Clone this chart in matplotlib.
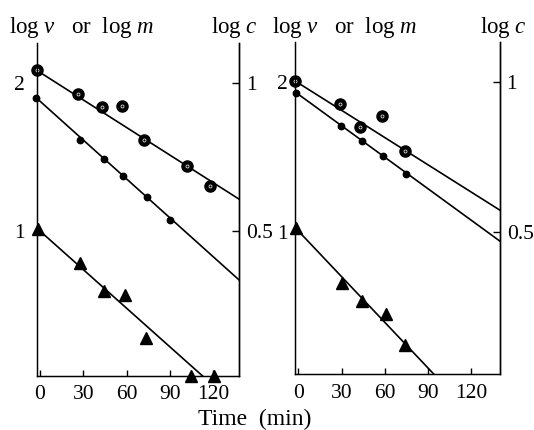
import numpy as np
import matplotlib
matplotlib.use("Agg")
import matplotlib.pyplot as plt

plt.rcParams['font.family'] = ['Liberation Serif', 'DejaVu Serif']
plt.rcParams['mathtext.fontset'] = 'custom'
plt.rcParams['mathtext.rm'] = 'Liberation Serif'
plt.rcParams['mathtext.it'] = 'Liberation Serif:italic'

# ---------------- data ----------------
# Left panel
L_big_t = [-2, 26, 43, 57, 72, 102, 118]
L_big_v = [2.084, 1.921, 1.833, 1.842, 1.613, 1.440, 1.305]
L_dot_t = [-2.5, 28, 44, 57.5, 74, 90]
L_dot_v = [1.898, 1.613, 1.485, 1.372, 1.227, 1.074]
L_tri_t = [-1.2, 27.7, 44.5, 58.9, 73.2, 104.6, 120.5]
L_tri_v = [1.011, 0.782, 0.598, 0.569, 0.277, 0.026, 0.026]
# fitted lines: (intercept at t=0, slope per min)
L_big_fit = (2.068, -0.00619)
L_dot_fit = (1.874, -0.00873)
L_tri_fit = (1.000, -0.00867)

# Right panel
R_big_t = [-2.4, 29, 43, 58, 74]
R_big_v = [2.009, 1.853, 1.704, 1.777, 1.542]
R_dot_t = [-1.5, 29.3, 43.9, 58.9, 74.4]
R_dot_v = [1.931, 1.711, 1.609, 1.509, 1.389]
R_tri_t = [-1.9, 30.4, 44.3, 60.6, 74]
R_tri_v = [1.027, 0.664, 0.544, 0.455, 0.249]
R_big_fit = (1.995, -0.00606)
R_dot_fit = (1.920, -0.00700)
R_tri_fit = (1.008, -0.01015)

x_ticks = [0, 30, 60, 90, 120]
left_ticks = [1, 2]
right_ticks = [0.5, 1]
right_ticklabels = ['0.5', '1']

W, H = 534, 430
fig = plt.figure(figsize=(W / 100, H / 100), dpi=100)

FS = 15.5
TFS = 16.5


def px_axes(x0, y0, x1, y1):
    return fig.add_axes([x0 / W, 1 - y1 / H, (x1 - x0) / W, (y1 - y0) / H])


def draw_panel(ax, xlim, ylim, big, dot, tri, fits, lpad):
    ax.set_xlim(*xlim)
    ax.set_ylim(*ylim)
    for (t, v), (b, s) in zip([big, dot, tri], fits):
        tl = np.array([t[0], xlim[1] + 5])
        ax.plot(tl, b + s * tl, color='black', lw=1.2, zorder=2)
    # big circles with a small white centre
    ax.plot(big[0], big[1], 'o', ms=8, mfc='black', mec='black',
            clip_on=False, zorder=3)
    ax.plot(big[0], big[1], 'o', ms=2.2, mfc='none', mec='white', mew=0.5,
            clip_on=False, zorder=4)
    # small dots
    ax.plot(dot[0], dot[1], 'o', ms=4.6, mfc='black', mec='black',
            clip_on=False, zorder=3)
    # triangles
    ax.plot(tri[0], tri[1], '^', ms=8, mfc='black', mec='black',
            clip_on=False, zorder=3)

    ax.spines['top'].set_visible(False)
    for s in ['left', 'right', 'bottom']:
        ax.spines[s].set_linewidth(1.0)
    ax.set_xticks(x_ticks)
    ax.set_xticklabels([str(v) for v in x_ticks])
    ax.tick_params(axis='x', direction='in', length=4, width=1.0,
                   labelsize=FS, pad=7)
    ax.set_yticks(left_ticks)
    ax.set_yticklabels([str(v) for v in left_ticks])
    ax.tick_params(axis='y', direction='in', length=0, labelsize=FS,
                   pad=lpad)

    ax2 = ax.twinx()
    ax2.set_ylim(ylim[0] / 2, ylim[1] / 2)
    ax2.set_yticks(right_ticks)
    ax2.set_yticklabels(right_ticklabels)
    ax2.tick_params(axis='y', direction='in', length=5, width=1.0,
                    labelsize=FS, pad=5)
    ax2.spines['top'].set_visible(False)
    ax2.spines['right'].set_linewidth(1.0)
    return ax2


axL = px_axes(37, 43, 239.3, 375.7)
draw_panel(axL, (-2.1, 138.0), (0.026, 2.266),
           (L_big_t, L_big_v), (L_dot_t, L_dot_v), (L_tri_t, L_tri_v),
           [L_big_fit, L_dot_fit, L_tri_fit], 9)

axR = px_axes(294.7, 41.7, 499.7, 374.3)
draw_panel(axR, (-2.6, 139.7), (0.053, 2.271),
           (R_big_t, R_big_v), (R_dot_t, R_dot_v), (R_tri_t, R_tri_v),
           [R_big_fit, R_dot_fit, R_tri_fit], 5)

# axis titles
fig.text(9 / W, 1 - 33 / H, r'log $v$   or  log $m$', fontsize=TFS,
         ha='left', va='baseline')
fig.text(211 / W, 1 - 33 / H, r'log $c$', fontsize=TFS, ha='left',
         va='baseline')
fig.text(272 / W, 1 - 33 / H, r'log $v$   or  log $m$', fontsize=TFS,
         ha='left', va='baseline')
fig.text(480 / W, 1 - 33 / H, r'log $c$', fontsize=TFS, ha='left',
         va='baseline')
fig.text(255 / W, 1 - 425 / H, 'Time  (min)', fontsize=17, ha='center',
         va='baseline')

fig.savefig('out.png', dpi=100)
